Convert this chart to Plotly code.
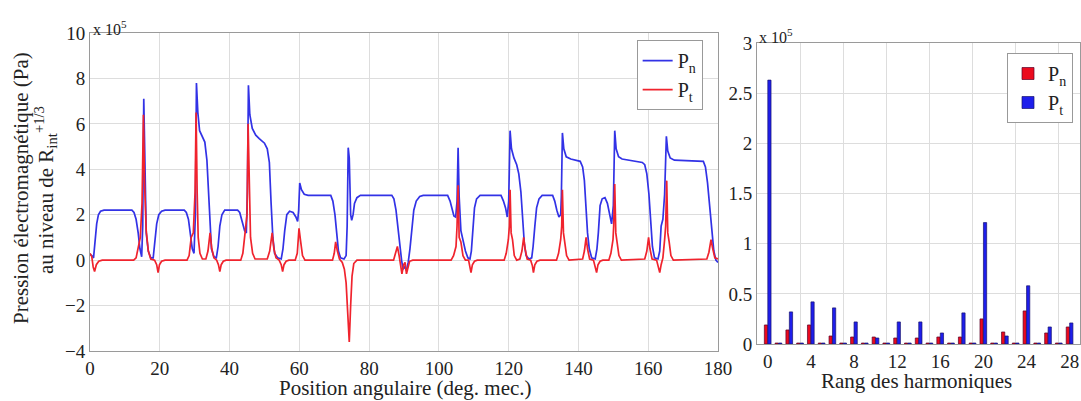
import plotly.graph_objects as go

# ---------------- data (values in units of 1e5 Pa) ----------------
pn_points = [
    (0.0, 0.25), (0.5, 0.2), (1.0, 0.1), (1.4, 0.8), (1.9, 1.6), (2.4, 2.0), (3.0, 2.15), (4.0, 2.2),
    (12.0, 2.2), (12.6, 2.1), (13.2, 1.8), (13.8, 1.2), (14.3, 0.5), (14.8, 0.15), (15.1, 1.5),
    (15.4, 7.1), (15.7, 3.5), (16.1, 1.2), (16.7, 0.4), (17.4, 0.1), (18.1, 0.1), (18.6, 0.8),
    (19.1, 1.6), (19.7, 2.0), (20.5, 2.15), (21.5, 2.2), (27.0, 2.2), (27.6, 2.1), (28.2, 1.8),
    (28.8, 1.1), (29.3, 0.5), (29.8, 0.3), (30.2, 2.0), (30.5, 7.8), (30.9, 6.5), (31.4, 5.7),
    (32.2, 5.4), (32.9, 5.2), (33.5, 4.4), (33.9, 3.0), (34.3, 1.5), (34.8, 0.5), (35.5, 0.15),
    (36.2, 0.1), (36.7, 0.6), (37.2, 1.5), (37.8, 2.0), (38.6, 2.2), (42.3, 2.2), (42.9, 2.1),
    (43.6, 1.7), (44.3, 1.3), (44.8, 1.2), (45.1, 3.0), (45.4, 7.7), (45.8, 6.4), (46.5, 5.8),
    (47.5, 5.5), (48.5, 5.35), (50.0, 5.15), (50.8, 4.9), (51.4, 4.3), (51.9, 2.5), (52.4, 1.0),
    (52.9, 0.3), (53.8, 0.1), (54.8, 0.05), (55.3, 0.5), (55.8, 1.3), (56.4, 2.0), (57.2, 2.15),
    (58.2, 2.1), (59.0, 1.9), (59.5, 1.7), (59.8, 2.2), (60.1, 3.4), (60.6, 3.1), (61.4, 2.9),
    (62.5, 2.85), (69.0, 2.85), (69.6, 2.6), (70.2, 2.0), (70.7, 1.2), (71.2, 0.4), (71.8, 0.1),
    (72.8, 0.05), (73.4, 0.2), (73.7, 1.5), (74.0, 4.95), (74.3, 4.5), (74.7, 2.0), (75.0, 1.75),
    (75.4, 2.0), (75.8, 2.5), (76.5, 2.75), (77.5, 2.85), (86.5, 2.85), (87.1, 2.7), (87.7, 2.2),
    (88.3, 1.3), (88.8, 0.5), (89.3, 0.0), (89.7, -0.4), (90.2, -0.3), (90.7, -0.45), (91.2, -0.1),
    (91.7, 0.5), (92.2, 1.4), (92.8, 2.2), (93.5, 2.6), (94.5, 2.8), (95.5, 2.85), (102.5, 2.85),
    (103.2, 2.6), (103.8, 2.3), (104.3, 1.95), (104.8, 1.9), (105.2, 2.6), (105.5, 4.95),
    (105.8, 2.8), (106.3, 1.3), (107.0, 0.8), (107.6, 0.4), (108.3, 0.1), (108.9, 0.05),
    (109.3, 0.4), (109.7, 1.4), (110.2, 2.3), (110.8, 2.7), (111.8, 2.85), (117.8, 2.85),
    (118.5, 2.6), (119.1, 2.3), (119.6, 1.9), (120.0, 2.6), (120.4, 5.7), (120.8, 4.9),
    (121.5, 4.5), (122.3, 4.2), (122.9, 3.8), (123.5, 3.0), (124.0, 1.8), (124.5, 0.7),
    (125.0, 0.2), (125.8, 0.05), (126.6, 0.1), (127.0, 0.6), (127.5, 1.5), (128.0, 2.3),
    (128.7, 2.7), (129.6, 2.85), (132.6, 2.85), (133.2, 2.6), (133.8, 2.2), (134.4, 1.9),
    (134.9, 2.0), (135.1, 2.8), (135.4, 5.6), (135.8, 4.9), (136.5, 4.55), (137.8, 4.45),
    (140.5, 4.35), (141.2, 4.1), (141.7, 3.5), (142.1, 2.5), (142.6, 1.2), (143.1, 0.5),
    (143.8, 0.1), (144.8, 0.05), (145.3, 0.5), (145.7, 1.2), (146.2, 2.4), (146.8, 2.7),
    (147.6, 2.75), (148.3, 2.5), (149.0, 2.0), (149.5, 1.6), (150.0, 2.4), (150.4, 5.7),
    (150.8, 4.9), (151.5, 4.55), (152.5, 4.45), (158.3, 4.3), (159.0, 4.2), (159.6, 3.8),
    (160.2, 2.9), (160.7, 1.6), (161.2, 0.6), (161.8, 0.1), (162.8, 0.05), (163.3, 0.4),
    (163.7, 1.5), (164.2, 1.8), (164.7, 2.9), (165.2, 5.45), (165.6, 4.8), (166.3, 4.5),
    (167.5, 4.4), (175.8, 4.35), (176.4, 4.1), (177.0, 3.4), (177.6, 2.4), (178.2, 1.2),
    (178.8, 0.4), (179.4, 0.0), (180.0, -0.1),
]

pt_points = [
    (0.0, 0.3), (0.5, 0.15), (0.9, -0.3), (1.3, -0.5), (1.8, -0.2), (2.5, -0.05), (3.5, 0.0),
    (12.5, 0.0), (13.2, 0.1), (13.8, 0.5), (14.4, 1.0), (14.9, 2.5), (15.3, 6.4), (15.6, 3.5),
    (16.1, 1.3), (16.7, 0.4), (17.4, 0.05), (18.5, 0.0), (19.1, -0.2), (19.5, -0.55), (19.9, -0.2),
    (20.5, -0.05), (21.5, 0.0), (27.8, 0.0), (28.4, 0.2), (29.0, 1.0), (29.6, 1.2), (30.1, 3.0),
    (30.4, 6.5), (30.7, 3.0), (31.0, 1.0), (31.5, 0.3), (32.2, 0.05), (33.2, 0.05), (33.8, 0.4),
    (34.4, 1.2), (34.9, 0.5), (35.5, 0.1), (36.3, 0.0), (36.8, -0.2), (37.2, -0.5), (37.6, -0.2),
    (38.2, -0.05), (39.0, 0.0), (43.2, 0.0), (43.8, 0.3), (44.5, 1.2), (45.0, 2.0), (45.3, 6.0),
    (45.6, 3.0), (46.0, 1.0), (46.6, 0.3), (47.3, 0.05), (50.8, 0.05), (51.5, 0.4), (52.2, 1.2),
    (52.7, 0.5), (53.3, 0.1), (54.2, 0.0), (54.8, -0.2), (55.2, -0.5), (55.6, -0.2), (56.2, -0.05),
    (57.0, 0.0), (58.8, 0.0), (59.4, 0.3), (59.9, 1.4), (60.3, 0.9), (60.9, 0.2), (61.6, 0.0),
    (69.5, 0.0), (70.0, 0.3), (70.4, 0.8), (70.9, 0.4), (71.5, 0.05), (72.3, -0.1), (72.9, -0.4),
    (73.4, -1.0), (73.9, -2.2), (74.3, -3.6), (74.7, -2.0), (75.1, -0.7), (75.6, -0.15),
    (76.5, 0.0), (87.0, 0.0), (87.6, 0.3), (88.1, 0.6), (88.6, 0.2), (89.0, -0.3), (89.4, -0.6),
    (89.9, -0.2), (90.3, -0.1), (90.7, -0.6), (91.1, -0.3), (91.6, -0.05), (92.5, 0.0),
    (103.5, 0.0), (104.2, 0.2), (104.9, 0.6), (105.2, 1.5), (105.5, 3.3), (105.8, 1.0),
    (106.3, 0.8), (106.9, 0.2), (107.6, 0.0), (108.5, 0.0), (108.9, -0.25), (109.2, -0.55),
    (109.6, -0.2), (110.2, -0.05), (111.0, 0.0), (118.7, 0.0), (119.3, 0.3), (119.9, 0.9),
    (120.2, 1.5), (120.4, 3.1), (120.7, 1.2), (121.1, 0.9), (121.6, 0.2), (122.3, 0.0),
    (123.2, 0.05), (123.8, 0.4), (124.3, 1.0), (124.7, 0.5), (125.3, 0.05), (126.3, 0.0),
    (126.8, -0.25), (127.1, -0.55), (127.5, -0.2), (128.1, -0.05), (129.0, 0.0), (133.7, 0.0),
    (134.3, 0.3), (134.9, 0.9), (135.2, 1.5), (135.4, 3.1), (135.7, 1.2), (136.1, 0.8),
    (136.6, 0.2), (137.3, 0.0), (141.2, 0.05), (141.7, 0.4), (142.2, 1.0), (142.6, 0.5),
    (143.2, 0.05), (144.3, 0.0), (144.8, -0.25), (145.2, -0.55), (145.6, -0.2), (146.2, -0.05),
    (147.0, 0.0), (148.7, 0.0), (149.3, 0.3), (149.9, 0.9), (150.1, 1.5), (150.4, 3.35),
    (150.7, 1.2), (151.1, 0.8), (151.6, 0.2), (152.3, 0.0), (159.0, 0.05), (159.6, 0.4),
    (160.1, 1.0), (160.5, 0.5), (161.1, 0.05), (162.4, 0.0), (162.9, -0.25), (163.3, -0.55),
    (163.7, -0.2), (164.2, 0.1), (164.7, 0.9), (165.0, 1.5), (165.3, 3.5), (165.6, 1.2),
    (166.0, 0.8), (166.5, 0.2), (167.2, 0.0), (176.8, 0.05), (177.4, 0.35), (178.0, 0.9),
    (178.5, 0.5), (179.1, 0.1), (180.0, 0.05),
]

pn_angle = [p[0] for p in pn_points]
pn_value = [p[1] for p in pn_points]
pt_angle = [p[0] for p in pt_points]
pt_value = [p[1] for p in pt_points]

harmonics = list(range(0, 29))
bar_pn = [0.19, 0.01, 0.14, 0.01, 0.19, 0.01, 0.08, 0.01, 0.07, 0.01, 0.07, 0.01, 0.06, 0.01, 0.06,
          0.01, 0.07, 0.01, 0.07, 0.01, 0.25, 0.01, 0.12, 0.01, 0.33, 0.01, 0.11, 0.01, 0.17]
bar_pt = [2.63, 0.01, 0.32, 0.01, 0.42, 0.01, 0.36, 0.01, 0.22, 0.01, 0.06, 0.01, 0.22, 0.01, 0.22,
          0.01, 0.11, 0.01, 0.31, 0.01, 1.21, 0.01, 0.08, 0.01, 0.58, 0.01, 0.17, 0.01, 0.21]

left_xticks = list(range(0, 181, 20))
left_yticks = list(range(-4, 11, 2))
right_xticks = list(range(0, 29, 4))
right_yticks = [0, 0.5, 1, 1.5, 2, 2.5, 3]

# ---------------- figure ----------------
FONT = "Liberation Serif, Times New Roman, serif"
TXT = "#222222"
GRID = "#dddddd"
AXL = "#9a9a9a"

fig = go.Figure()
fig.add_trace(go.Scatter(x=pn_angle, y=pn_value, mode="lines", name="P<sub>n</sub>",
                         line=dict(color="rgb(50,50,230)", width=1.7),
                         xaxis="x", yaxis="y", legend="legend"))
fig.add_trace(go.Scatter(x=pt_angle, y=pt_value, mode="lines", name="P<sub>t</sub>",
                         line=dict(color="rgb(240,35,45)", width=1.7),
                         xaxis="x", yaxis="y", legend="legend"))
fig.add_trace(go.Bar(x=harmonics, y=bar_pn, name="P<sub>n</sub>", width=0.3, offset=-0.32,
                     marker=dict(color="rgb(235,10,30)", line=dict(color="rgb(90,0,40)", width=0.7)),
                     xaxis="x2", yaxis="y2", legend="legend2"))
fig.add_trace(go.Bar(x=harmonics, y=bar_pt, name="P<sub>t</sub>", width=0.3, offset=0.0,
                     marker=dict(color="rgb(30,30,235)", line=dict(color="rgb(25,20,110)", width=0.7)),
                     xaxis="x2", yaxis="y2", legend="legend2"))

axis_common = dict(showline=True, mirror=True, linecolor=AXL, linewidth=1, gridcolor=GRID,
                   showgrid=True, zeroline=False, ticks="", automargin=False,
                   tickfont=dict(family=FONT, size=19, color=TXT))

fig.update_layout(
    width=1081, height=401,
    margin=dict(l=0, r=0, t=0, b=0),
    paper_bgcolor="white", plot_bgcolor="white",
    barmode="overlay",
    font=dict(family=FONT, color=TXT, size=19),
    xaxis=dict(domain=[0.0833, 0.6642], range=[0, 180], tickvals=left_xticks, anchor="y",
               **axis_common),
    yaxis=dict(domain=[0.1247, 0.9177], range=[-4, 10], tickvals=left_yticks, anchor="x",
               **axis_common),
    xaxis2=dict(domain=[0.7003, 0.9995], range=[-1, 29], tickvals=right_xticks, anchor="y2",
                minor=dict(tick0=3, dtick=4, showgrid=True, gridcolor=GRID, ticks=""),
                **{**axis_common, "showgrid": False}),
    yaxis2=dict(domain=[0.1421, 0.8928], range=[0, 3], tickvals=right_yticks, anchor="x2",
                **axis_common),
    legend=dict(x=0.650, y=0.900, xanchor="right", yanchor="top", bgcolor="white",
                bordercolor="#999999", borderwidth=1, itemwidth=30, tracegroupgap=0,
                font=dict(family=FONT, size=20, color=TXT)),
    legend2=dict(x=0.9926, y=0.8678, xanchor="right", yanchor="top", bgcolor="white",
                 bordercolor="#999999", borderwidth=1, itemwidth=30, tracegroupgap=0,
                 font=dict(family=FONT, size=20, color=TXT)),
    showlegend=True,
)

annotations = [
    dict(text="Position angulaire (deg. mec.)", x=405 / 1081, y=1 - 388 / 401,
         font=dict(size=21)),
    dict(text="Rang des harmoniques", x=917 / 1081, y=1 - 381 / 401, font=dict(size=21)),
    dict(text="Pression électromagnétique (Pa)", x=21 / 1081, y=1 - 188 / 401,
         textangle=-90, font=dict(size=21)),
    dict(text="au niveau de R<sub>int</sub><sup>+1/3</sup>", x=45 / 1081, y=1 - 190 / 401,
         textangle=-90, font=dict(size=21)),
    dict(text="x 10<sup>5</sup>", x=91 / 1081, y=1 - 28 / 401, xanchor="left",
         font=dict(size=16)),
    dict(text="x 10<sup>5</sup>", x=757 / 1081, y=1 - 36 / 401, xanchor="left",
         font=dict(size=16)),
]
for a in annotations:
    a.setdefault("xanchor", "center")
    a.update(xref="paper", yref="paper", yanchor="middle", showarrow=False)
    a["font"] = dict(family=FONT, color=TXT, **a["font"])
fig.update_layout(annotations=annotations)

fig.write_html("out.html", config={"displayModeBar": False},
               post_script="document.body.style.margin='0px';document.body.style.overflow='hidden';")
